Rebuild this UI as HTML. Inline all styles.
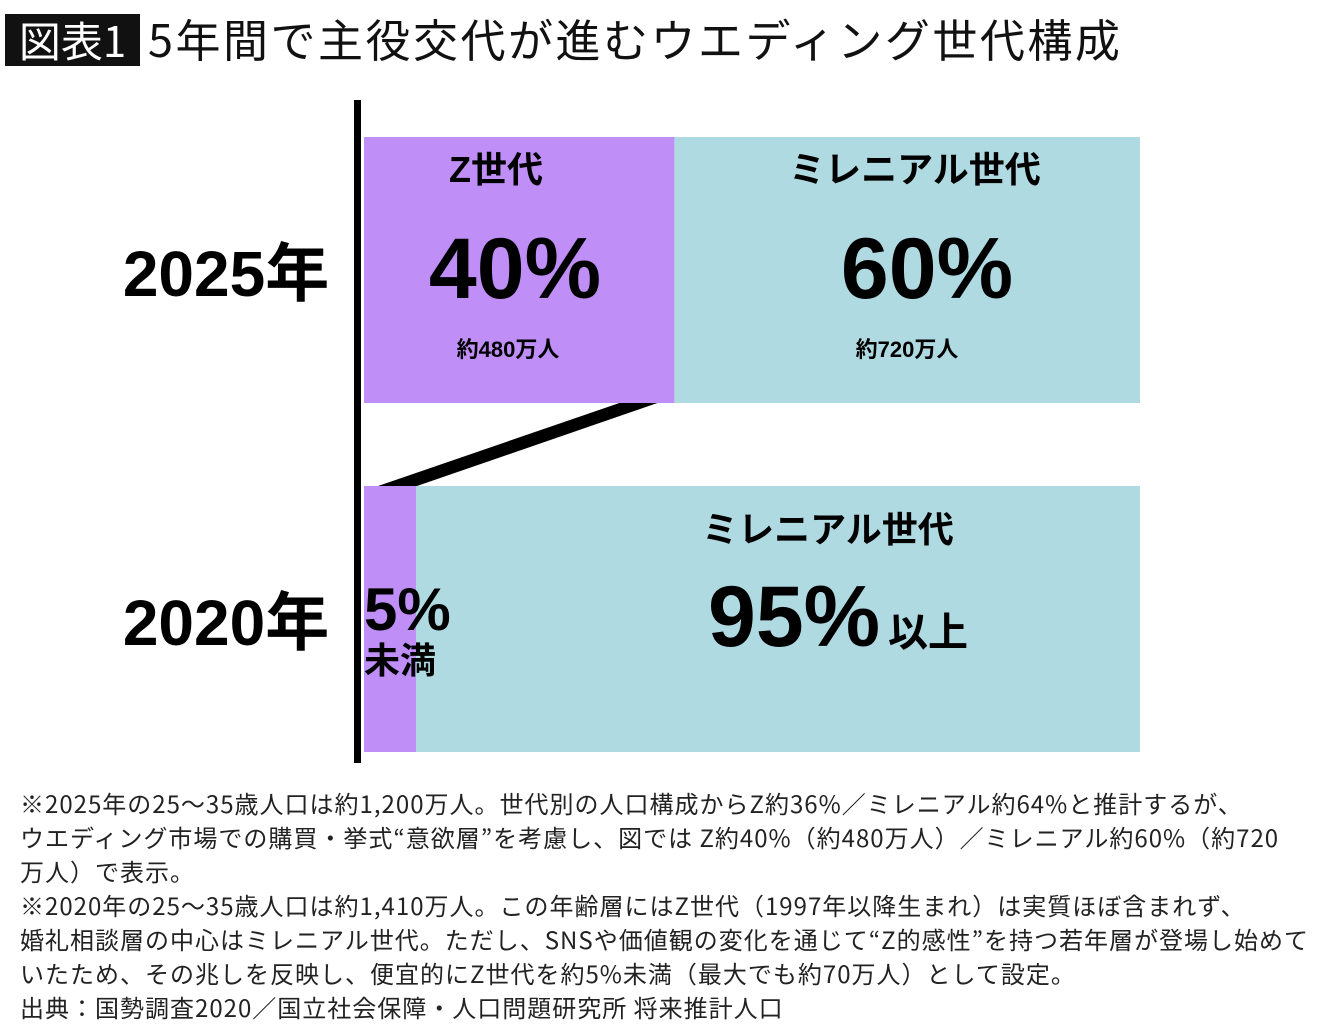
<!DOCTYPE html>
<html><head><meta charset="utf-8"><style>
body{margin:0;width:1340px;height:1031px;background:#fff;font-family:"Liberation Sans","Noto Sans CJK JP",sans-serif;position:relative;overflow:hidden;color:#111}
.a{position:absolute;white-space:nowrap}
.note{position:absolute;left:20px;top:786px;font-size:24px;line-height:34px;letter-spacing:1.0px;color:#222;font-family:"Noto Sans CJK JP",sans-serif;white-space:nowrap}
</style></head><body>
<div class="a" style="left:5px;top:14px;width:135px;height:52px;background:#111;color:#fff;font-size:42px;line-height:52px;text-align:center;font-family:'Noto Sans CJK JP',sans-serif">図表1</div>
<div class="a" style="left:148px;top:5px;font-size:45px;line-height:66px;letter-spacing:2.5px;font-family:'Noto Sans CJK JP',sans-serif">5年間で主役交代が進むウエディング世代構成</div>
<svg class="a" style="left:0;top:0" width="1340" height="780" id="chart"></svg>
<div class="note">※2025年の25〜35歳人口は約1,200万人。世代別の人口構成からZ約36%／ミレニアル約64%と推計するが、<br>ウエディング市場での購買・挙式“意欲層”を考慮し、図では Z約40%（約480万人）／ミレニアル約60%（約720<br>万人）で表示。<br>※2020年の25〜35歳人口は約1,410万人。この年齢層にはZ世代（1997年以降生まれ）は実質ほぼ含まれず、<br>婚礼相談層の中心はミレニアル世代。ただし、SNSや価値観の変化を通じて“Z的感性”を持つ若年層が登場し始めて<br>いたため、その兆しを反映し、便宜的にZ世代を約5%未満（最大でも約70万人）として設定。<br>出典：国勢調査2020／国立社会保障・人口問題研究所 将来推計人口</div>
<script>
const years=["2025年","2020年"];
const zShare=[40,6.7];
const mShare=[60,93.3];
const zLabels=["40%","5%"];
const mLabels=["60%","95%"];
const NS="http://www.w3.org/2000/svg";
const svg=document.getElementById('chart');
const x0=364,x1=1140;
const xs=v=>x0+(x1-x0)*v/100;
const rowTop=[137,486],rowH=266;
function el(t,a,txt){const e=document.createElementNS(NS,t);for(const k in a)e.setAttribute(k,a[k]);if(txt!==undefined)e.textContent=txt;svg.appendChild(e);return e;}
const F="Liberation Sans, Noto Sans CJK JP, sans-serif";
years.forEach((y,i)=>{
  const zr=el('rect',{x:x0,y:rowTop[i],width:xs(zShare[i])-x0,height:rowH,fill:'#bf8ef7'});
  
  
  const mr=el('rect',{x:xs(zShare[i]),y:rowTop[i],width:xs(zShare[i]+mShare[i])-xs(zShare[i]),height:rowH,fill:'#afdae2'});
  
  
  const yl=el('text',{x:226,y:rowTop[i]+rowH/2+26,'text-anchor':'middle','font-size':64,'font-weight':'bold','font-family':F},y);
  
  
});
const cp=el('polygon',{points:`${xs(zShare[0])-55},403 ${xs(zShare[0])-17},403 ${xs(zShare[1])+1},486 ${xs(zShare[1])-38},486`,fill:'#000'});


const ax=el('rect',{x:354,y:100,width:7,height:663,fill:'#000'});


function t(x,y,s,txt,name,anchor){const e=el('text',{x:x,y:y,'text-anchor':anchor||'middle','font-size':s,'font-weight':'bold','font-family':F},txt);return e;}
t(496,182,36,"Z世代","label-z-2025");
t(515,298,86,zLabels[0],"value-z-2025");
t(508,357,22,"約480万人","count-z-2025");
t(915,182,36,"ミレニアル世代","label-m-2025");
t(927,298,86,mLabels[0],"value-m-2025");
t(907,357,22,"約720万人","count-m-2025");
t(828,542,36,"ミレニアル世代","label-m-2020");
t(708,646,86,mLabels[1],"value-m-2020","start");
t(888,646,40,"以上","suffix-m-2020","start");
t(364,630,60,zLabels[1],"value-z-2020","start");
t(364,673,36,"未満","suffix-z-2020","start");
</script>
</body></html>
